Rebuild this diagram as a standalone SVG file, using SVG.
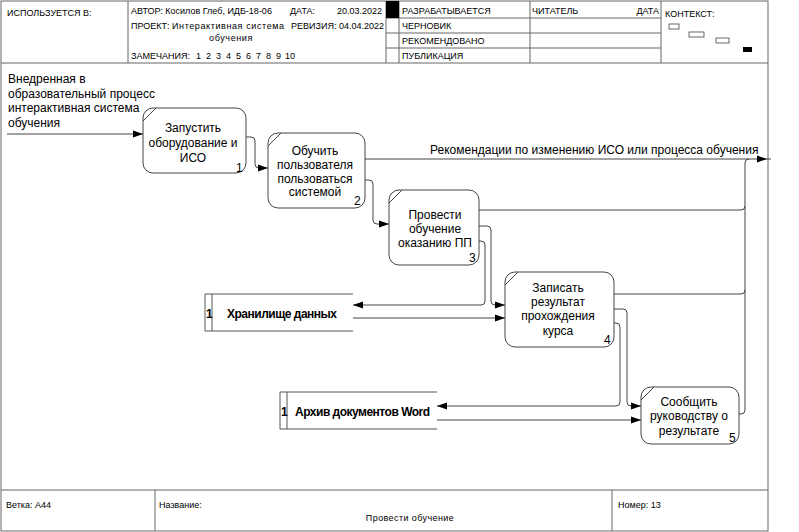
<svg xmlns="http://www.w3.org/2000/svg" width="799" height="532" viewBox="0 0 799 532">
  <defs>
    <style>
      .frame { fill: none; stroke: #666; stroke-width: 1; }
      .hdr { font-family: "Liberation Sans", Arial, sans-serif; font-size: 9px; fill: #000; }
      .box { fill: #fff; stroke: #444; stroke-width: 1; }
      .corner { stroke: #444; stroke-width: 1; fill: none; }
      .lbl { font-family: "Liberation Sans", Arial, sans-serif; font-size: 12px; fill: #000; }
      .mid { text-anchor: middle; }
      .store { fill: none; stroke: #555; stroke-width: 1; }
      .storetxt { font-family: "Liberation Sans", Arial, sans-serif; font-size: 12px; font-weight: bold; fill: #000; letter-spacing: -0.5px; }
      .conn { fill: none; stroke: #444; stroke-width: 1; }
    </style>
    <marker id="arr" viewBox="0 0 10 10" refX="10" refY="5" markerWidth="10" markerHeight="10" markerUnits="userSpaceOnUse" orient="auto">
      <path d="M0,1.5 L10,5 L0,8.5 Z" fill="#000"/>
    </marker>
  </defs>

  <rect width="799" height="532" fill="#fff"/>

  <!-- Page frame and title block -->
  <g id="frame">
    <rect class="frame" x="1" y="1" width="767" height="530"/>
    <line class="frame" x1="1" y1="63" x2="768" y2="63"/>
    <line class="frame" x1="128" y1="1" x2="128" y2="63"/>
    <line class="frame" x1="386" y1="1" x2="386" y2="63"/>
    <line class="frame" x1="399" y1="1" x2="399" y2="63"/>
    <line class="frame" x1="530" y1="1" x2="530" y2="63"/>
    <line class="frame" x1="661" y1="1" x2="661" y2="63"/>
    <line class="frame" x1="386" y1="18" x2="661" y2="18"/>
    <line class="frame" x1="386" y1="33" x2="661" y2="33"/>
    <line class="frame" x1="386" y1="48" x2="661" y2="48"/>
    <rect x="386" y="1" width="13" height="17" fill="#000"/>

    <text class="hdr" x="7" y="16">ИСПОЛЬЗУЕТСЯ В:</text>
    <text class="hdr" x="131" y="14">АВТОР: Косилов Глеб, ИДБ-18-06</text>
    <text class="hdr" x="290" y="14">ДАТА:</text>
    <text class="hdr" x="382" y="14" text-anchor="end">20.03.2022</text>
    <text class="hdr" x="131" y="29">ПРОЕКТ:</text>
    <text class="hdr" x="172" y="29" style="letter-spacing:0.6px">Интерактивная система</text>
    <text class="hdr" x="231" y="41" text-anchor="middle" style="letter-spacing:0.6px">обучения</text>
    <text class="hdr" x="291" y="29">РЕВИЗИЯ: 04.04.2022</text>
    <text class="hdr" x="131" y="59">ЗАМЕЧАНИЯ:</text>
    <text class="hdr" y="59"><tspan x="196">1</tspan><tspan x="206">2</tspan><tspan x="216">3</tspan><tspan x="226">4</tspan><tspan x="236">5</tspan><tspan x="246">6</tspan><tspan x="256">7</tspan><tspan x="266">8</tspan><tspan x="276">9</tspan><tspan x="285">10</tspan></text>

    <text class="hdr" x="402" y="14">РАЗРАБАТЫВАЕТСЯ</text>
    <text class="hdr" x="402" y="29">ЧЕРНОВИК</text>
    <text class="hdr" x="402" y="44">РЕКОМЕНДОВАНО</text>
    <text class="hdr" x="402" y="59">ПУБЛИКАЦИЯ</text>
    <text class="hdr" x="532" y="14">ЧИТАТЕЛЬ</text>
    <text class="hdr" x="659" y="14" text-anchor="end">ДАТА</text>

    <text class="hdr" x="665" y="17">КОНТЕКСТ:</text>
    <rect x="669" y="24" width="10" height="5" fill="#fff" stroke="#444" stroke-width="0.8"/>
    <rect x="689" y="32" width="15" height="5" fill="#fff" stroke="#444" stroke-width="0.8"/>
    <rect x="716" y="38" width="13" height="5" fill="#fff" stroke="#444" stroke-width="0.8"/>
    <rect x="743" y="47" width="9" height="5" fill="#000"/>

    <line class="frame" x1="1" y1="490" x2="768" y2="490"/>
    <line class="frame" x1="155" y1="490" x2="155" y2="531"/>
    <line class="frame" x1="612" y1="490" x2="612" y2="531"/>
    <text class="hdr" x="6" y="508">Ветка:  А44</text>
    <text class="hdr" x="159" y="508">Название:</text>
    <text class="hdr" x="410" y="521" text-anchor="middle" style="letter-spacing:0.4px">Провести обучение</text>
    <text class="hdr" x="618" y="508">Номер: 13</text>
  </g>

  <!-- Connectors -->
  <g id="connectors">
    <path class="conn" d="M7,134 H143" marker-end="url(#arr)"/>
    <path class="conn" d="M246,137 H251 Q255,137 255,141 V164 Q255,168 259,168 H268" marker-end="url(#arr)"/>
    <path class="conn" d="M365,159 H767" marker-end="url(#arr)"/>
    <line class="conn" x1="767" y1="159" x2="771" y2="159"/>
    <path class="conn" d="M365,180 H369 Q373,180 373,184 V220 Q373,224 377,224 H389" marker-end="url(#arr)"/>
    <!-- outputs collected into the recommendations line -->
    <path class="conn" d="M739,414 H741 Q745,414 745,410 V163 Q745,159 749,159"/>
    <path class="conn" d="M479,210 H741 Q745,210 745,206"/>
    <path class="conn" d="M614,294 H741 Q745,294 745,290"/>
    <!-- process 3 outputs -->
    <path class="conn" d="M479,226 H487 Q491,226 491,230 V301 Q491,305 495,305 H505" marker-end="url(#arr)"/>
    <path class="conn" d="M479,241 H481 Q485,241 485,245 V301 Q485,305 481,305 H353" marker-end="url(#arr)"/>
    <path class="conn" d="M353,318 H505" marker-end="url(#arr)"/>
    <!-- process 4 outputs -->
    <path class="conn" d="M614,309 H623 Q627,309 627,313 V402 Q627,406 631,406 H641" marker-end="url(#arr)"/>
    <path class="conn" d="M614,323 H616 Q620,323 620,327 V402 Q620,406 616,406 H437" marker-end="url(#arr)"/>
    <path class="conn" d="M437,420 H641" marker-end="url(#arr)"/>

    <text class="lbl" x="8" y="83">Внедренная в</text>
    <text class="lbl" x="8" y="98">образовательный процесс</text>
    <text class="lbl" x="8" y="112">интерактивная система</text>
    <text class="lbl" x="8" y="127">обучения</text>
    <text class="lbl" x="430" y="154">Рекомендации по изменению ИСО или процесса обучения</text>
  </g>

  <!-- Activities -->
  <g id="node1">
    <rect class="box" x="143" y="108" width="103" height="65" rx="10"/>
    <line class="corner" x1="143" y1="121" x2="156" y2="108"/>
    <text class="lbl mid" x="193" y="132">Запустить</text>
    <text class="lbl mid" x="193" y="147">оборудование и</text>
    <text class="lbl mid" x="193" y="162">ИСО</text>
    <text class="lbl" x="236" y="172">1</text>
  </g>
  <g id="node2">
    <rect class="box" x="268" y="133" width="97" height="75" rx="10"/>
    <line class="corner" x1="268" y1="146" x2="281" y2="133"/>
    <text class="lbl mid" x="315" y="155">Обучить</text>
    <text class="lbl mid" x="315" y="169">пользователя</text>
    <text class="lbl mid" x="315" y="183">пользоваться</text>
    <text class="lbl mid" x="315" y="196">системой</text>
    <text class="lbl" x="354" y="205">2</text>
  </g>
  <g id="node3">
    <rect class="box" x="389" y="190" width="90" height="75" rx="10"/>
    <line class="corner" x1="389" y1="203" x2="402" y2="190"/>
    <text class="lbl mid" x="435" y="219">Провести</text>
    <text class="lbl mid" x="435" y="233">обучение</text>
    <text class="lbl mid" x="435" y="247">оказанию ПП</text>
    <text class="lbl" x="469" y="262">3</text>
  </g>
  <g id="node4">
    <rect class="box" x="505" y="272" width="109" height="75" rx="10"/>
    <line class="corner" x1="505" y1="285" x2="518" y2="272"/>
    <text class="lbl mid" x="558" y="292">Записать</text>
    <text class="lbl mid" x="558" y="306">результат</text>
    <text class="lbl mid" x="558" y="320">прохождения</text>
    <text class="lbl mid" x="558" y="335">курса</text>
    <text class="lbl" x="604" y="344">4</text>
  </g>
  <g id="node5">
    <rect class="box" x="641" y="387" width="98" height="57" rx="10"/>
    <line class="corner" x1="641" y1="400" x2="654" y2="387"/>
    <text class="lbl mid" x="689" y="406">Сообщить</text>
    <text class="lbl mid" x="689" y="420">руководству о</text>
    <text class="lbl mid" x="689" y="435">результате</text>
    <text class="lbl" x="729" y="442">5</text>
  </g>

  <!-- Data stores -->
  <g id="store1">
    <path class="store" d="M353,294 H205 V331 H353 M212,294 V331"/>
    <text class="storetxt" x="206" y="318">1</text>
    <text class="storetxt" x="227" y="318">Хранилище данных</text>
  </g>
  <g id="store2">
    <path class="store" d="M437,392 H280 V429 H437 M287,392 V429"/>
    <text class="storetxt" x="281" y="416">1</text>
    <text class="storetxt" x="295" y="416">Архив документов Word</text>
  </g>
</svg>
